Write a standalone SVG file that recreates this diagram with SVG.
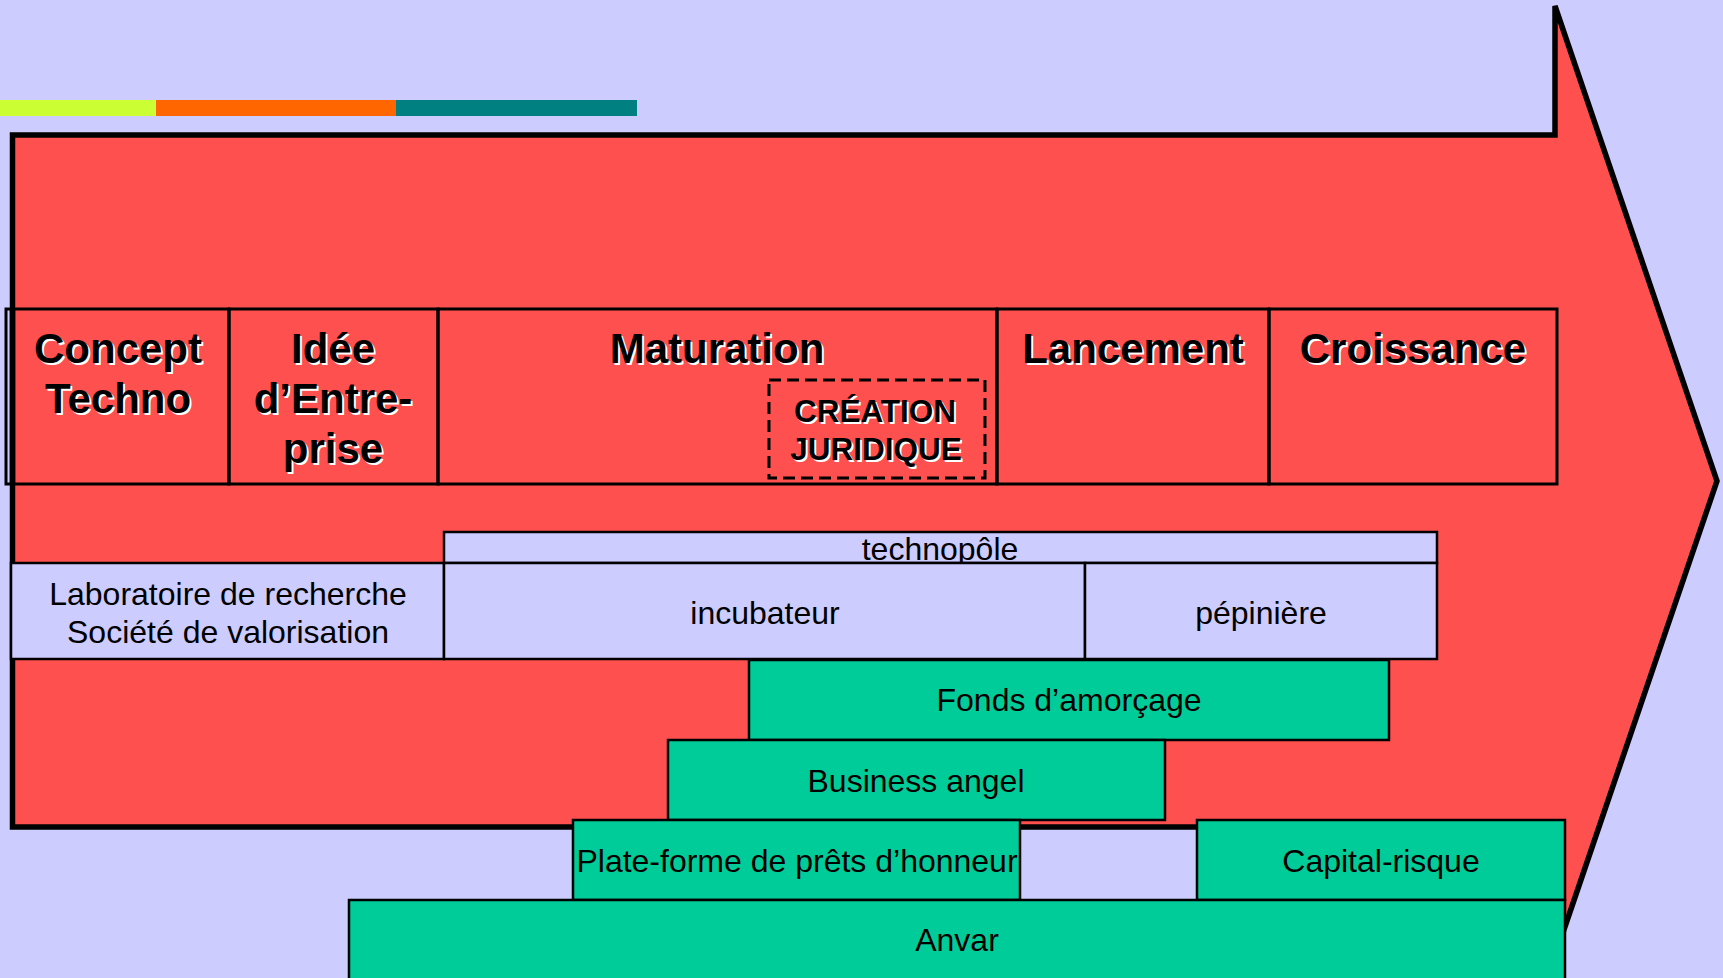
<svg xmlns="http://www.w3.org/2000/svg" width="1723" height="978" viewBox="0 0 1723 978">
<style>
.phase{fill:none;stroke:#000;stroke-width:3}
.lav{fill:#CCCCFF;stroke:#000;stroke-width:2.5}
.grn{fill:#00CC99;stroke:#000;stroke-width:2.5}
.t{font-family:"Liberation Sans",Arial,sans-serif;font-size:32px;fill:#000;text-anchor:middle}
.h{font-family:"Liberation Sans",Arial,sans-serif;font-size:42px;font-weight:bold;text-anchor:middle}
.hs{fill:#fff}
.hf{fill:#000}
.c{font-family:"Liberation Sans",Arial,sans-serif;font-size:31.5px;font-weight:bold;text-anchor:middle}
</style>
<rect x="0" y="0" width="1723" height="978" fill="#CCCCFF"/>
<g id="bars">
<rect x="0" y="100" width="156" height="16" fill="#CCFF33"/>
<rect x="156" y="100" width="240" height="16" fill="#FF6600"/>
<rect x="396" y="100" width="241" height="16" fill="#008080"/>
</g>
<g id="arrow">
<polygon points="12.5,135 1555,135 1555,6 1717,481 1555,956 1555,827 12.5,827" fill="#FF5050" stroke="#000" stroke-width="5.5"/>
</g>
<g id="phases">
<g id="concept">
<rect class="phase" x="6" y="309" width="223" height="175" stroke-width="2"/>
<line x1="12.5" y1="309" x2="12.5" y2="484" stroke="#000" stroke-width="5.5"/>
<text class="h hs" x="120" y="365">Concept</text><text class="h hf" x="118" y="363">Concept</text>
<text class="h hs" x="120" y="415">Techno</text><text class="h hf" x="118" y="413">Techno</text>
</g>
<g id="idee">
<rect class="phase" x="229" y="309" width="209" height="175"/>
<text class="h hs" x="335" y="365">Idée</text><text class="h hf" x="333" y="363">Idée</text>
<text class="h hs" x="335" y="415">d’Entre-</text><text class="h hf" x="333" y="413">d’Entre-</text>
<text class="h hs" x="335" y="465">prise</text><text class="h hf" x="333" y="463">prise</text>
</g>
<g id="maturation">
<rect class="phase" x="438" y="309" width="559" height="175"/>
<text class="h hs" x="719" y="365">Maturation</text><text class="h hf" x="717" y="363">Maturation</text>
</g>
<g id="creation">
<rect x="769" y="380" width="216" height="98" fill="none" stroke="#000" stroke-width="3" stroke-dasharray="12 6"/>
<text class="c hs" x="877" y="424">CRÉATION</text><text class="c hf" x="875" y="422">CRÉATION</text>
<text class="c hs" x="878" y="462">JURIDIQUE</text><text class="c hf" x="876" y="460">JURIDIQUE</text>
</g>
<g id="lancement">
<rect class="phase" x="997" y="309" width="272" height="175"/>
<text class="h hs" x="1135" y="365">Lancement</text><text class="h hf" x="1133" y="363">Lancement</text>
</g>
<g id="croissance">
<rect class="phase" x="1269" y="309" width="288" height="175"/>
<text class="h hs" x="1415" y="365">Croissance</text><text class="h hf" x="1413" y="363">Croissance</text>
</g>
</g>
<g id="connectors"/>
<g id="technopole">
<rect class="lav" x="444" y="532" width="993" height="31"/>
<text class="t" x="940" y="560">technopôle</text>
</g>
<g id="laboratoire">
<rect class="lav" x="11" y="563" width="433" height="96"/>
<text class="t" x="228" y="605">Laboratoire de recherche</text>
<text class="t" x="228" y="643">Société de valorisation</text>
</g>
<g id="incubateur">
<rect class="lav" x="444" y="563" width="641" height="96"/>
<text class="t" x="765" y="624">incubateur</text>
</g>
<g id="pepiniere">
<rect class="lav" x="1085" y="563" width="352" height="96"/>
<text class="t" x="1261" y="624">pépinière</text>
</g>
<g id="fonds">
<rect class="grn" x="749" y="660" width="640" height="80"/>
<text class="t" x="1069" y="711">Fonds d’amorçage</text>
</g>
<g id="business">
<rect class="grn" x="668" y="740" width="497" height="80"/>
<text class="t" x="916" y="792">Business angel</text>
</g>
<g id="plateforme">
<rect class="grn" x="573" y="820" width="447" height="80"/>
<text class="t" x="797" y="872">Plate-forme de prêts d’honneur</text>
</g>
<g id="capital">
<rect class="grn" x="1197" y="820" width="368" height="80"/>
<text class="t" x="1381" y="872">Capital-risque</text>
</g>
<g id="anvar">
<rect class="grn" x="349" y="900" width="1216" height="90"/>
<text class="t" x="957" y="951">Anvar</text>
</g>
</svg>
